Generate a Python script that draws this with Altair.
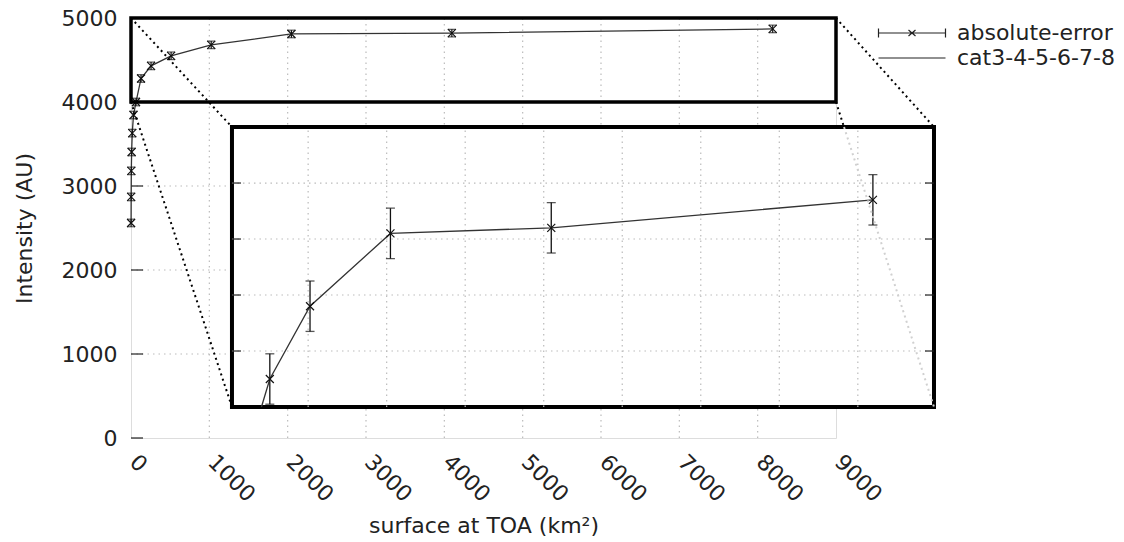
import altair as alt
import pandas as pd

# ---------------- data ----------------
X = [1, 2, 4, 8, 16, 32, 64, 128, 256, 512, 1024, 2048, 4096, 8192]
Y = [2560, 2870, 3180, 3405, 3630, 3845, 4000, 4280, 4430, 4550, 4680, 4810, 4820, 4870]
ERR = [45, 45, 45, 45, 45, 45, 45, 45, 45, 45, 45, 45, 45, 45]

SERIES = ["absolute-error", "cat3-4-5-6-7-8"]

X_TICKS = [0, 1000, 2000, 3000, 4000, 5000, 6000, 7000, 8000, 9000]
Y_TICKS = [0, 1000, 2000, 3000, 4000, 5000]
X_GRID = [1000, 2000, 3000, 4000, 5000, 6000, 7000, 8000]
Y_GRID = [1000, 2000, 3000, 4000]

MAIN_X_DOMAIN = [0, 9000]
MAIN_Y_DOMAIN = [0, 5000]

# zoom rectangle (main coordinates)
ZOOM_X = [0, 9000]
ZOOM_Y = [4000, 5000]

# inset box placed in main coordinates
INSET_BOX_X = [1289, 10251]
INSET_BOX_Y = [369, 3702]

# inset own axes
INSET_X_DOMAIN = [30, 8970]
INSET_Y_DOMAIN = [4500, 5000]
INSET_X_GRID = [1000, 2000, 3000, 4000, 5000, 6000, 7000, 8000]
INSET_Y_GRID = [4600, 4700, 4800, 4900]

W, H = 705, 420
FONT = "DejaVu Sans"
FS = 22

# inset -> main coordinate mapping (Vega expressions)
SX = (INSET_BOX_X[1] - INSET_BOX_X[0]) / (INSET_X_DOMAIN[1] - INSET_X_DOMAIN[0])
SY = (INSET_BOX_Y[1] - INSET_BOX_Y[0]) / (INSET_Y_DOMAIN[1] - INSET_Y_DOMAIN[0])

def mx(field):
    return f"{INSET_BOX_X[0]} + (datum.{field} - {INSET_X_DOMAIN[0]}) * {SX}"

def my(field):
    return f"{INSET_BOX_Y[0]} + (datum.{field} - {INSET_Y_DOMAIN[0]}) * {SY}"

main_df = pd.DataFrame({"x": X, "y": Y, "err": ERR})
main_df["lo"] = main_df["y"] - main_df["err"]
main_df["hi"] = main_df["y"] + main_df["err"]

# connectors: rectangle corners -> inset corners
conn_df = pd.DataFrame({
    "x1": [ZOOM_X[0], ZOOM_X[0], ZOOM_X[1], ZOOM_X[1]],
    "y1": [ZOOM_Y[1], ZOOM_Y[0], ZOOM_Y[1], ZOOM_Y[0]],
    "x2": [INSET_BOX_X[0], INSET_BOX_X[0], INSET_BOX_X[1], INSET_BOX_X[1]],
    "y2": [INSET_BOX_Y[1], INSET_BOX_Y[0], INSET_BOX_Y[1], INSET_BOX_Y[0]],
})
# part of the last connector that lies inside the inset (drawn light on top)
_x1, _y1, _x2, _y2 = ZOOM_X[1], ZOOM_Y[0], INSET_BOX_X[1], INSET_BOX_Y[0]
_t = (_y1 - INSET_BOX_Y[1]) / (_y1 - _y2)
gray_df = pd.DataFrame({
    "x1": [_x1 + _t * (_x2 - _x1)], "y1": [INSET_BOX_Y[1]],
    "x2": [_x2], "y2": [_y2],
})

# inset line clipped to the inset window (bottom edge)
ins_pts = []
ymin = INSET_Y_DOMAIN[0]
for i in range(len(X)):
    if Y[i] >= ymin:
        if i > 0 and Y[i - 1] < ymin:
            t = (ymin - Y[i - 1]) / (Y[i] - Y[i - 1])
            ins_pts.append((X[i - 1] + t * (X[i] - X[i - 1]), ymin))
        ins_pts.append((X[i], Y[i]))
ins_line_df = pd.DataFrame(ins_pts, columns=["x", "y"])
ins_pt_df = main_df[main_df["y"] >= ymin].copy()

# ---------------- scales / axes ----------------
xs = alt.Scale(domain=MAIN_X_DOMAIN, nice=False, zero=False)
ys = alt.Scale(domain=MAIN_Y_DOMAIN, nice=False, zero=False)

x_axis = alt.Axis(values=X_TICKS, format="d", labelAngle=45, labelAlign="left",
                  labelBaseline="top", labelPadding=13, labelOffset=9, tickSize=0,
                  domain=False, grid=False,
                  labelFont=FONT, labelFontSize=FS, labelColor="#222",
                  title="surface at TOA (km²)", titleFont=FONT, titleFontSize=FS,
                  titleFontWeight="normal", titleColor="#222", titlePadding=10)
y_axis = alt.Axis(values=Y_TICKS, format="d", tickSize=0, domain=False, grid=False,
                  labelPadding=14,
                  labelFont=FONT, labelFontSize=FS, labelColor="#222",
                  title="Intensity (AU)", titleFont=FONT, titleFontSize=FS,
                  titleFontWeight="normal", titleColor="#222", titlePadding=25)

GRID = dict(color="#bbbbbb", strokeDash=[1.5, 4], strokeWidth=1.2)

# ---------------- main panel ----------------
grid_v = alt.Chart(pd.DataFrame({"g": X_GRID, "a": MAIN_Y_DOMAIN[0], "b": MAIN_Y_DOMAIN[1]})).mark_rule(
    **GRID).encode(x=alt.X("g:Q", scale=xs, axis=x_axis), y=alt.Y("a:Q", scale=ys, axis=y_axis), y2="b:Q")
grid_h = alt.Chart(pd.DataFrame({"g": Y_GRID, "a": MAIN_X_DOMAIN[0], "b": MAIN_X_DOMAIN[1]})).mark_rule(
    **GRID).encode(y=alt.Y("g:Q", scale=ys), x=alt.X("a:Q", scale=xs), x2="b:Q")
yticks_in = alt.Chart(pd.DataFrame({"g": Y_TICKS, "a": MAIN_X_DOMAIN[0]})).mark_rule(
    color="#222", strokeWidth=1.2, x2Offset=12
).encode(y=alt.Y("g:Q", scale=ys), x=alt.X("a:Q", scale=xs), x2="a:Q")

line = alt.Chart(main_df).mark_line(color="#333", strokeWidth=1.3).encode(
    x=alt.X("x:Q", scale=xs), y=alt.Y("y:Q", scale=ys))
ebar = alt.Chart(main_df).mark_rule(color="#111", strokeWidth=1.2).encode(
    x=alt.X("x:Q", scale=xs), y=alt.Y("lo:Q", scale=ys), y2="hi:Q")
cap_lo = alt.Chart(main_df).mark_tick(color="#111", orient="horizontal", size=8, thickness=1.2).encode(
    x=alt.X("x:Q", scale=xs), y=alt.Y("lo:Q", scale=ys))
cap_hi = alt.Chart(main_df).mark_tick(color="#111", orient="horizontal", size=8, thickness=1.2).encode(
    x=alt.X("x:Q", scale=xs), y=alt.Y("hi:Q", scale=ys))
XPATH = "M-1,-1L1,1M-1,1L1,-1"
marks = alt.Chart(main_df).mark_point(shape=XPATH, size=64, filled=False, color="#111",
                                      strokeWidth=1.2, opacity=1).encode(
    x=alt.X("x:Q", scale=xs), y=alt.Y("y:Q", scale=ys))

zoom_rect = alt.Chart(pd.DataFrame({"x0": [ZOOM_X[0]], "x1": [ZOOM_X[1]],
                                    "y0": [ZOOM_Y[0]], "y1": [ZOOM_Y[1]]})).mark_rect(
    filled=False, stroke="black", strokeWidth=3.5
).encode(x=alt.X("x0:Q", scale=xs), x2="x1:Q", y=alt.Y("y0:Q", scale=ys), y2="y1:Q")

conn = alt.Chart(conn_df).mark_rule(color="black", strokeDash=[2, 3.5], strokeWidth=2).encode(
    x=alt.X("x1:Q", scale=xs), y=alt.Y("y1:Q", scale=ys), x2="x2:Q", y2="y2:Q")

# ---------------- inset (mapped into main coordinates) ----------------
ibg = alt.Chart(pd.DataFrame({"x0": [INSET_X_DOMAIN[0]], "x1": [INSET_X_DOMAIN[1]],
                              "y0": [INSET_Y_DOMAIN[0]], "y1": [INSET_Y_DOMAIN[1]]})).transform_calculate(
    X0=mx("x0"), X1=mx("x1"), Y0=my("y0"), Y1=my("y1")
).mark_rect(fill="white", stroke="black", strokeWidth=4).encode(
    x=alt.X("X0:Q", scale=xs), x2="X1:Q", y=alt.Y("Y0:Q", scale=ys), y2="Y1:Q")

igrid_v = alt.Chart(pd.DataFrame({"g": INSET_X_GRID, "a": INSET_Y_DOMAIN[0], "b": INSET_Y_DOMAIN[1]})
                    ).transform_calculate(G=mx("g"), A=my("a"), B=my("b")).mark_rule(**GRID).encode(
    x=alt.X("G:Q", scale=xs), y=alt.Y("A:Q", scale=ys), y2="B:Q")
igrid_h = alt.Chart(pd.DataFrame({"g": INSET_Y_GRID, "a": INSET_X_DOMAIN[0], "b": INSET_X_DOMAIN[1]})
                    ).transform_calculate(G=my("g"), A=mx("a"), B=mx("b")).mark_rule(**GRID).encode(
    y=alt.Y("G:Q", scale=ys), x=alt.X("A:Q", scale=xs), x2="B:Q")
itick_l = alt.Chart(pd.DataFrame({"g": INSET_Y_GRID, "a": INSET_X_DOMAIN[0]})
                    ).transform_calculate(G=my("g"), A=mx("a")).mark_rule(
    color="#222", strokeWidth=1.2, x2Offset=9).encode(
    y=alt.Y("G:Q", scale=ys), x=alt.X("A:Q", scale=xs), x2="A:Q")
itick_r = alt.Chart(pd.DataFrame({"g": INSET_Y_GRID, "a": INSET_X_DOMAIN[1]})
                    ).transform_calculate(G=my("g"), A=mx("a")).mark_rule(
    color="#222", strokeWidth=1.2, xOffset=-9).encode(
    y=alt.Y("G:Q", scale=ys), x=alt.X("A:Q", scale=xs), x2="A:Q")

iline = alt.Chart(ins_line_df).transform_calculate(X=mx("x"), Y=my("y")).mark_line(
    color="#333", strokeWidth=1.3).encode(x=alt.X("X:Q", scale=xs), y=alt.Y("Y:Q", scale=ys))
ipts = alt.Chart(ins_pt_df).transform_calculate(X=mx("x"), Y=my("y"), LO=my("lo"), HI=my("hi"))
iebar = ipts.mark_rule(color="#111", strokeWidth=1.3).encode(
    x=alt.X("X:Q", scale=xs), y=alt.Y("LO:Q", scale=ys), y2="HI:Q")
icap_lo = ipts.mark_tick(color="#111", orient="horizontal", size=9, thickness=1.3).encode(
    x=alt.X("X:Q", scale=xs), y=alt.Y("LO:Q", scale=ys))
icap_hi = ipts.mark_tick(color="#111", orient="horizontal", size=9, thickness=1.3).encode(
    x=alt.X("X:Q", scale=xs), y=alt.Y("HI:Q", scale=ys))
imarks = ipts.mark_point(shape=XPATH, size=64, filled=False, color="#111",
                         strokeWidth=1.2, opacity=1).encode(
    x=alt.X("X:Q", scale=xs), y=alt.Y("Y:Q", scale=ys))

gray = alt.Chart(gray_df).mark_rule(color="#d0d0d0", strokeDash=[2, 3.5], strokeWidth=2).encode(
    x=alt.X("x1:Q", scale=xs), y=alt.Y("y1:Q", scale=ys), x2="x2:Q", y2="y2:Q")

# ---------------- legend (custom symbols) ----------------
LEG_ERR = ("M-3.35,0H3.35M-3.35,-0.45V0.45M3.35,-0.45V0.45"
           "M-0.35,-0.3L0.35,0.3M-0.35,0.3L0.35,-0.3")
LEG_LINE = "M-3.35,0H3.35"
legend_layer = alt.Chart(main_df).transform_calculate(series="'absolute-error'").mark_point(
    opacity=0, filled=False).encode(
    x=alt.X("x:Q", scale=xs), y=alt.Y("y:Q", scale=ys),
    shape=alt.Shape("series:N", scale=alt.Scale(domain=SERIES, range=[LEG_ERR, LEG_LINE]),
                    legend=alt.Legend(title=None, orient="none", legendX=770, legendY=4,
                                      symbolSize=400, symbolOpacity=1,
                                      symbolStrokeColor="#222", symbolFillColor="transparent",
                                      symbolStrokeWidth=1.2, labelOffset=34, rowPadding=3,
                                      labelFont=FONT, labelFontSize=FS, labelColor="#222",
                                      padding=0)))

chart = alt.layer(
    grid_v, grid_h, yticks_in, line, ebar, cap_lo, cap_hi, marks, zoom_rect, conn,
    ibg, igrid_v, igrid_h, itick_l, itick_r, iline, iebar, icap_lo, icap_hi, imarks, gray,
    legend_layer
).properties(
    width=W, height=H,
    autosize=alt.AutoSizeParams(type="none"),
    padding={"left": 123, "top": 10, "right": 280, "bottom": 104},
).configure_view(stroke="#222", strokeWidth=1.5).configure(background="white")

chart.save("out.html", embed_options={"renderer": "svg", "actions": False})
